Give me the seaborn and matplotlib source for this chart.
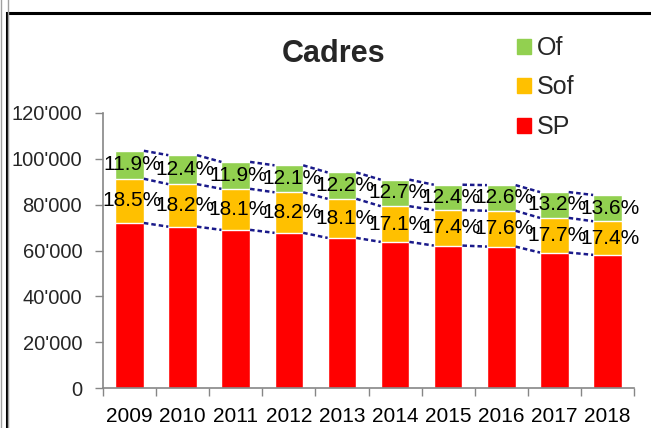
import matplotlib
matplotlib.use("Agg")
import matplotlib.pyplot as plt
from matplotlib.patches import Patch, Rectangle
from matplotlib.ticker import FuncFormatter, FixedLocator
import seaborn as sns
import pandas as pd
import numpy as np

years = ["2009", "2010", "2011", "2012", "2013", "2014", "2015", "2016", "2017", "2018"]
sp = [72000, 70400, 69000, 67700, 65500, 63750, 62150, 61700, 59100, 58100]
sof = [19300, 18550, 17900, 17700, 17050, 15580, 15500, 15630, 15120, 14670]
of = [12200, 12650, 11750, 11770, 11500, 11570, 11050, 11190, 11270, 11460]
of_pct = [11.9, 12.4, 11.9, 12.1, 12.2, 12.7, 12.4, 12.6, 13.2, 13.6]
sof_pct = [18.5, 18.2, 18.1, 18.2, 18.1, 17.1, 17.4, 17.6, 17.7, 17.4]

df = pd.DataFrame({"year": years, "SP": sp, "Sof": sof, "Of": of})
df["sp_top"] = df["SP"]
df["sof_top"] = df["SP"] + df["Sof"]
df["of_top"] = df["sof_top"] + df["Of"]

sns.set_theme(style="white")
plt.rcParams["font.family"] = ["Liberation Sans", "DejaVu Sans"]

colors = {"Of": "#92D050", "Sof": "#FFC000", "SP": "#FF0000"}
bar_w = 0.54

fig = plt.figure(figsize=(6.51, 4.28), dpi=100)
ax = fig.add_axes([103 / 651, 1 - 388 / 428, 531 / 651, 275 / 428])

# stacked bars drawn as overlapping cumulative totals
sns.barplot(data=df, x="year", y="of_top", color=colors["Of"], width=bar_w, saturation=1, ax=ax)
sns.barplot(data=df, x="year", y="sof_top", color=colors["Sof"], width=bar_w, saturation=1, ax=ax)
sns.barplot(data=df, x="year", y="sp_top", color=colors["SP"], width=bar_w, saturation=1, ax=ax)

# series lines between bars
for col in ["sp_top", "sof_top", "of_top"]:
    v = df[col].values
    for i in range(len(v) - 1):
        ax.plot([i + bar_w / 2, i + 1 - bar_w / 2], [v[i], v[i + 1]],
                color="#1A1A8A", lw=1.8, ls=(0, (1.8, 1.2)), zorder=3)

# percentage labels
for i in range(len(years)):
    ax.text(i + 0.05, df["sof_top"][i] + of[i] / 2, f"{of_pct[i]:.1f}%", ha="center", va="center",
            fontsize=15, color="black", zorder=4)
    ax.text(i + 0.05, df["sp_top"][i] + sof[i] / 2, f"{sof_pct[i]:.1f}%", ha="center", va="center",
            fontsize=15, color="black", zorder=4)

ax.set_xlim(-0.5, len(years) - 0.5)
ax.set_ylim(0, 120000)
ax.set_yticks(np.arange(0, 120001, 20000))
ax.yaxis.set_major_formatter(FuncFormatter(lambda v, p: f"{int(v):,}".replace(",", "'")))
ax.xaxis.set_minor_locator(FixedLocator(np.arange(-0.5, len(years), 1.0)))
ax.tick_params(axis="x", which="major", length=0, labelsize=15, pad=14, colors="black")
ax.tick_params(axis="x", which="minor", length=6, width=1, color="#868686", direction="out", bottom=True)
ax.tick_params(axis="y", length=6, width=1, color="#868686", direction="out", labelsize=14.5, pad=9, left=True)
ax.set_xlabel("")
ax.set_ylabel("")
for s in ["top", "right"]:
    ax.spines[s].set_visible(False)
for s in ["left", "bottom"]:
    ax.spines[s].set_color("#868686")
    ax.spines[s].set_linewidth(1.2)

fig.text(334 / 651, 1 - 54 / 428, "Cadres", ha="center", va="center",
         fontsize=22, fontweight="bold")

handles = [Patch(color=colors[k], label=k) for k in ["Of", "Sof", "SP"]]
fig.legend(handles=handles, loc="upper left", bbox_to_anchor=(517 / 651, 1 - 36 / 428),
           frameon=False, fontsize=18, handlelength=0.55, handleheight=0.55,
           handletextpad=0.25, labelspacing=0.62, borderaxespad=0, borderpad=0)

# chart frame
fig.add_artist(Rectangle((6.5 / 651, -0.1), 1.2, 1 - 12.5 / 428 + 0.1, transform=fig.transFigure,
                         fill=False, edgecolor="black", lw=2.2))
fig.add_artist(Rectangle((1 / 651, -0.1), 0.01, 1.2, transform=fig.transFigure,
                         fill=False, edgecolor="#A0A0A0", lw=1))

fig.savefig("out.png", dpi=100)
plt.close(fig)
